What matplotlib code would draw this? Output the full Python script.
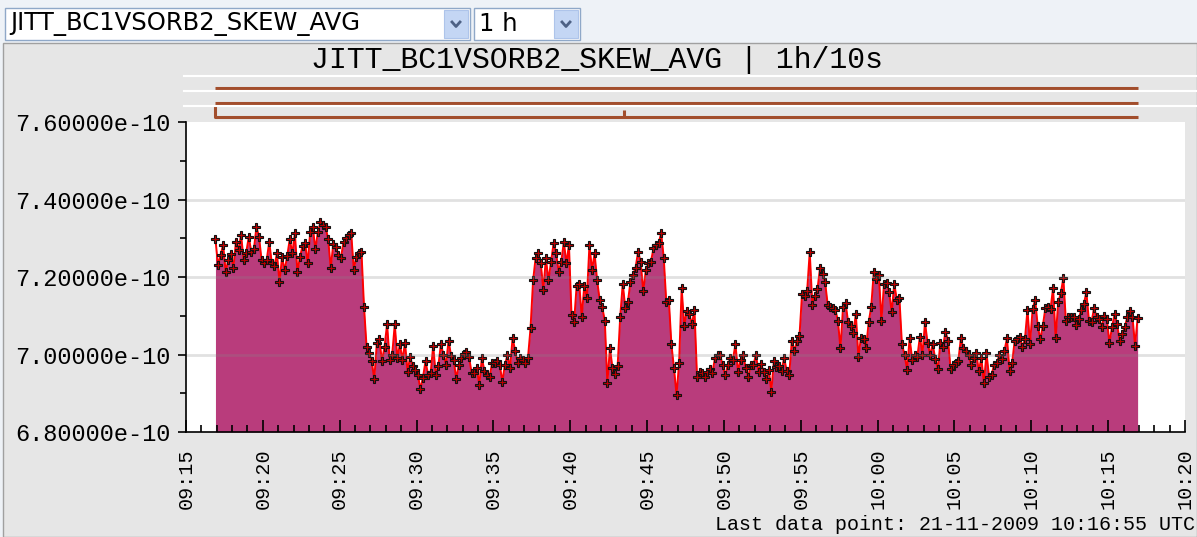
import datetime as dt
import numpy as np
import matplotlib
matplotlib.use("Agg")
import matplotlib.pyplot as plt
import matplotlib.dates as mdates
from matplotlib.lines import Line2D
from matplotlib.patches import Rectangle
from matplotlib.ticker import FuncFormatter, MultipleLocator

# ---------------- data ----------------
signal_name = "JITT_BC1VSORB2_SKEW_AVG"
range_label = "1 h"
title_text = "JITT_BC1VSORB2_SKEW_AVG | 1h/10s"
footer_text = "Last data point: 21-11-2009 10:16:55 UTC"
first_sample = dt.datetime(2009, 11, 21, 9, 16, 55)
sample_step_s = 10
status_event = dt.datetime(2009, 11, 21, 9, 43, 30)
x_limits = (dt.datetime(2009, 11, 21, 9, 15), dt.datetime(2009, 11, 21, 10, 20))
y_limits = (6.8e-10, 7.6e-10)

# values in units of 1e-12
skew_avg_e12 = [
    729.7, 723.0, 725.7, 728.3, 721.3, 724.4, 725.9, 722.4, 729.1, 727.0,
    730.9, 724.4, 726.3, 730.3, 726.5, 727.1, 732.9, 730.4, 724.4, 723.5,
    724.4, 729.1, 723.5, 722.8, 726.1, 718.7, 725.2, 721.7, 725.4, 729.7,
    726.1, 731.3, 721.3, 725.2, 728.0, 728.7, 723.5, 731.7, 732.9, 727.1,
    731.7, 734.1, 733.5, 732.9, 729.7, 722.4, 728.5, 727.8, 725.7, 725.0,
    729.1, 730.0, 730.9, 731.3, 721.9, 725.2, 726.1, 726.5, 712.3, 701.9,
    700.4, 698.3, 693.6, 703.0, 703.9, 698.3, 702.0, 707.8, 698.7, 700.0,
    707.8, 699.1, 702.6, 698.7, 703.0, 695.6, 699.4, 697.0, 696.1, 694.8,
    691.1,
    694.0, 698.3, 694.8, 695.2, 702.2, 694.8, 697.0, 702.6, 700.0, 697.4,
    703.6, 699.6, 698.7, 693.7, 697.4, 699.1, 700.2, 700.6, 699.4, 695.2,
    695.2, 696.5, 692.2, 699.1, 695.8, 694.8, 694.1, 697.8, 697.8, 698.3,
    697.2, 693.0, 697.4, 699.8, 696.5, 704.3, 700.9, 697.8, 699.1, 698.7,
    697.8, 699.1, 706.8, 719.1, 725.0, 726.1, 723.5, 716.7, 724.8, 719.1,
    723.9, 728.7, 726.1, 721.3, 723.9, 729.1, 723.5, 728.3, 710.3, 708.3,
    717.8, 718.3, 709.7, 717.8, 714.6, 728.3, 721.7, 726.1, 719.1, 714.1,
    712.2, 708.7, 692.6, 701.7, 696.5, 695.0, 697.0, 709.6, 718.3, 712.0,
    713.5, 718.7, 720.4, 722.4, 726.5, 723.9, 716.3, 721.7, 723.5, 723.9,
    727.4, 728.3, 728.7, 731.3, 725.0, 713.5, 714.1, 702.6, 696.5, 689.6,
    697.8, 717.1, 707.4, 711.3, 710.4, 707.8, 711.5, 694.3, 695.6, 695.2,
    694.1, 695.6, 696.3, 695.2, 699.1, 699.8, 700.0, 697.2, 694.6, 697.2,
    699.1, 698.7, 702.6, 695.6, 698.7, 700.0, 696.5, 694.2, 697.4, 697.2,
    700.0, 695.6, 697.6, 695.6, 693.6, 696.1, 690.4, 698.3, 696.7, 697.0,
    695.8, 699.1, 695.8, 694.8, 703.6, 700.9, 703.5, 704.8, 715.7, 715.2,
    716.5, 726.5, 712.9, 715.2, 716.8, 722.2, 720.7, 718.7, 712.9, 712.2,
    712.0, 711.6, 708.7, 701.6, 712.2, 713.2, 708.3, 707.4, 705.6, 710.4,
    699.4, 704.3, 704.1, 701.7, 708.3, 712.3, 721.3, 719.6, 720.4, 708.7,
    718.3, 718.4, 716.1, 710.9, 718.3, 714.1, 714.6, 702.6, 700.0, 696.1,
    704.2, 698.7, 700.0, 699.4, 704.6, 700.0, 708.3, 703.0, 700.0, 702.6,
    698.9, 696.3, 703.0, 701.9, 705.9, 703.6, 696.3, 697.2, 697.8, 698.3,
    704.2, 701.6, 701.0, 699.8, 697.4, 699.1, 700.4, 695.8, 699.1, 692.6,
    700.4, 694.3, 694.8, 697.4, 697.8, 699.8, 698.9, 700.9, 704.2, 695.8,
    697.8, 703.5, 703.9, 704.6, 701.9, 703.9, 711.5, 702.6, 711.7, 714.1,
    707.4, 703.9, 707.4, 712.0, 712.2, 711.7, 717.2, 704.2, 713.5, 715.8,
    719.7, 708.7, 709.6, 709.6, 709.7, 707.6, 709.1, 711.6, 713.0, 716.1,
    708.7, 708.3, 712.0, 709.7, 709.1, 707.1, 710.0, 709.1, 703.0, 707.0,
    710.4, 707.8, 703.5, 705.2, 707.1, 709.7, 711.3, 709.6, 702.3, 709.4,
]

values = np.array(skew_avg_e12) * 1e-12
times = [first_sample + dt.timedelta(seconds=sample_step_s * i) for i in range(len(values))]

# ---------------- figure ----------------
W, H = 1197, 537
fig = plt.figure(figsize=(W / 100, H / 100), dpi=100)
fig.patch.set_facecolor("#eef2f7")


def fx(px):
    return px / W


def fy(py):
    return 1 - py / H


mono = ["Liberation Mono", "DejaVu Sans Mono"]

# gray panel
fig.add_artist(Rectangle((fx(3), 0), 1 - fx(3), fy(43), transform=fig.transFigure,
                         facecolor="#e6e6e6", edgecolor="#a0a0a0", lw=1.0, zorder=0))


# dropdowns
def dropdown(x0, x1, label):
    fig.add_artist(Rectangle((fx(x0), fy(40)), fx(x1) - fx(x0), fy(8) - fy(40),
                             transform=fig.transFigure, facecolor="white",
                             edgecolor="#8fa8c8", lw=1.0, zorder=1))
    bx0 = x1 - 26
    fig.add_artist(Rectangle((fx(bx0), fy(38)), fx(24), fy(10) - fy(38),
                             transform=fig.transFigure, facecolor="#c4d6f4",
                             edgecolor="#aec4ea", lw=0.8, zorder=2))
    cx, cy = bx0 + 12, 24
    fig.add_artist(Line2D([fx(cx - 4), fx(cx), fx(cx + 4)], [fy(cy - 2), fy(cy + 2.5), fy(cy - 2)],
                          transform=fig.transFigure, color="#4d6185", lw=2.0, zorder=3))
    fig.text(fx(x0 + 5), fy(24), label, fontsize=17.5, family="DejaVu Sans",
             va="center", ha="left", color="black")


dropdown(5, 470, signal_name)
dropdown(474, 580, range_label)

# title
fig.text(fx(597), fy(60), title_text, family=mono, fontsize=21.5, ha="center",
         va="center", color="black")

# status area lines
for ypx in (76, 91, 106):
    fig.add_artist(Line2D([fx(184), 1], [fy(ypx), fy(ypx)], transform=fig.transFigure,
                          color="white", lw=1.5, zorder=1))

ax_l, ax_r = 186, 1185
ax_t, ax_b = 122, 432
ax = fig.add_axes([fx(ax_l), fy(ax_b), fx(ax_r) - fx(ax_l), fy(ax_t) - fy(ax_b)])
ax.set_facecolor("white")

fill_color = "#b93c7c"
ax.fill_between(times, values, y_limits[0], color=fill_color, lw=0, zorder=2)
ax.plot(times, values, color="#ff0000", lw=1.4, zorder=3)
ax.plot(times, values, ls="none", marker="P", ms=5.8, mfc="#c00000", mec="#111111",
        mew=0.8, zorder=4)

ax.set_xlim(x_limits)
ax.set_ylim(y_limits)

for yv in (7.0e-10, 7.2e-10, 7.4e-10):
    ax.axhline(yv, color="#888888", alpha=0.25, lw=2.0, zorder=5)

for s in ("top", "right"):
    ax.spines[s].set_visible(False)
for s in ("left", "bottom"):
    ax.spines[s].set_color("black")
    ax.spines[s].set_linewidth(1.2)
    ax.spines[s].set_zorder(6)

ax.yaxis.set_major_locator(MultipleLocator(0.2e-10))
ax.yaxis.set_minor_locator(MultipleLocator(0.1e-10))
ax.yaxis.set_major_formatter(FuncFormatter(lambda v, p: f"{v:.5e}"))
ax.xaxis.set_major_locator(mdates.MinuteLocator(byminute=range(0, 60, 5)))
ax.xaxis.set_minor_locator(mdates.MinuteLocator())
ax.xaxis.set_major_formatter(mdates.DateFormatter("%H:%M"))

ax.tick_params(axis="y", which="major", direction="out", length=6, width=1.2, pad=5,
               labelsize=17)
ax.tick_params(axis="y", which="minor", direction="out", length=4, width=1.2)
ax.tick_params(axis="x", which="major", direction="in", length=9, width=1.2, pad=12,
               labelsize=14.5, labelrotation=90)
ax.tick_params(axis="x", which="minor", direction="in", length=5, width=1.2)
for lab in ax.get_xticklabels() + ax.get_yticklabels():
    lab.set_family(mono)
for t in ax.xaxis.get_major_ticks() + ax.xaxis.get_minor_ticks():
    t.tick1line.set_zorder(7)
ax.set_axisbelow(False)

# status bars (share time axis)
ax_s = fig.add_axes([fx(ax_l), fy(122), fx(ax_r) - fx(ax_l), fy(70) - fy(122)], sharex=ax)
ax_s.set_ylim(122, 70)
ax_s.axis("off")
ax_s.patch.set_visible(False)
brown = "#a24e2c"
t0, t1 = times[0], times[-1]
ax_s.plot([t0, t1], [88, 88], color=brown, lw=2.2, solid_capstyle="butt")
ax_s.plot([t0, t1], [103, 103], color=brown, lw=2.2, solid_capstyle="butt")
ax_s.plot([t0, t0, t1], [106, 117, 117], color=brown, lw=2.2, solid_capstyle="butt")
ax_s.plot([status_event, status_event], [110, 117], color=brown, lw=2.2, solid_capstyle="butt")

# footer
fig.text(fx(1195), fy(524), footer_text, family=mono, fontsize=14.4, ha="right",
         va="center", color="black")

fig.savefig("out.png", dpi=100, facecolor=fig.get_facecolor())
